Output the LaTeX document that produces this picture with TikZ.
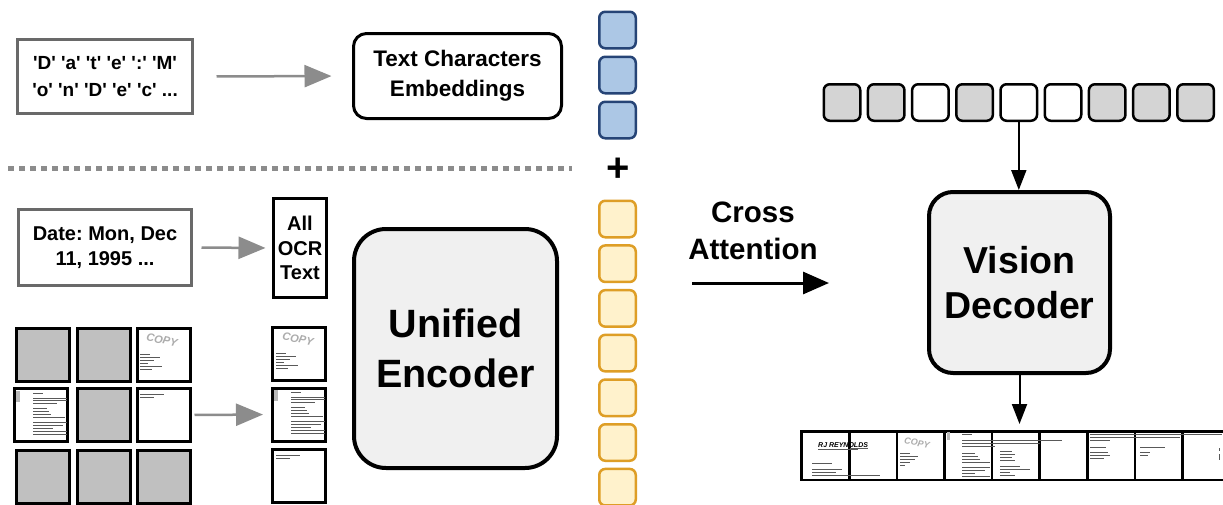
\documentclass[tikz,border=0pt]{standalone}
\usepackage{fontspec}
\setmainfont{Liberation Sans}
\usetikzlibrary{arrows.meta}
% straight single quote, set as a glyph so no ligature mapping touches it
\newcommand\sq{\XeTeXglyph\XeTeXcharglyph"27\relax}
\newcommand\qc[1]{\sq#1\sq}
\definecolor{blueFill}{RGB}{172,199,229}
\definecolor{blueLine}{RGB}{38,68,118}
\definecolor{amberFill}{RGB}{255,242,204}
\definecolor{amberLine}{RGB}{222,158,38}
\definecolor{tokGray}{RGB}{212,212,212}
\definecolor{tileGray}{RGB}{192,192,192}
\definecolor{boxFill}{RGB}{240,240,240}
\definecolor{frameGray}{RGB}{105,105,105}
\definecolor{arrowGray}{RGB}{140,140,140}
\frenchspacing
\begin{document}
\begin{tikzpicture}[x=1pt,y=-1pt,
  greybox/.style={draw=frameGray, line width=3pt, fill=white, inner sep=0pt, align=center},
  rbox/.style={draw=black, line width=3pt, fill=white, inner sep=0pt, align=center},
  bigbox/.style={draw=black, line width=4pt, fill=boxFill, inner sep=0pt, align=center},
  tokbase/.style={line width=2.5pt, minimum size=36.5pt, rounded corners=6pt, inner sep=0pt},
  bluetok/.style={tokbase, draw=blueLine, fill=blueFill},
  ambertok/.style={tokbase, draw=amberLine, fill=amberFill},
  graytok/.style={tokbase, draw=black},
  tile/.style={draw=black, line width=3pt, minimum size=53pt, fill=white, inner sep=0pt},
  striptile/.style={draw=black, line width=2.5pt, minimum width=47.6pt, minimum height=48.5pt, fill=white, inner sep=0pt},
  grayarrow/.style={draw=arrowGray, line width=2.5pt, -{Triangle[length=27pt,width=22pt]}},
  blackarrow/.style={draw=black, line width=2pt, -{Triangle[length=20pt,width=15pt]}},
  docink/.style={draw=black!65, line width=0.9pt},
  copydoc/.pic={
    \node[font=\bfseries\itshape\fontsize{11}{11}\selectfont, text=gray!65, rotate=-12, inner sep=0pt] (-word) at (27,13) {COPY};
    \draw[docink] (5,27)--(15,27) (5,30)--(25,30) (5,33.5)--(19,33.5) (5,36.5)--(13,36.5) (5,39.5)--(27,39.5) (5,42.5)--(17,42.5);
  },
  letterdoc/.pic={
    \fill[gray!55] (3,4) rectangle (7,15);
    \draw[docink] (20,6)--(30,6)
      (20,11)--(54,11) (20,13.5)--(54,13.5) (20,16)--(44,16)
      (20,21)--(34,21) (20,24)--(36,24) (20,27)--(38,27) (20,30)--(52,30)
      (20,35)--(54,35) (20,38)--(50,38) (20,41)--(40,41) (20,44)--(54,44) (20,47)--(54,47);
  },
  notedoc/.pic={
    \draw[docink] (5,7)--(29,7) (5,10)--(19,10);
  }
]
\useasboundingbox (0,0) rectangle (1223,504);
\fill[white] (0,0) rectangle (1223,504);

% character input and its embeddings
\node[greybox, minimum width=175pt, minimum height=74pt,
  font=\bfseries\fontsize{19}{27}\selectfont] (chars) at (105,76.5)
  {\qc{D} \qc{a} \qc{t} \qc{e} \qc{:} \qc{M}\\\qc{o} \qc{n} \qc{D} \qc{e} \qc{c} ...};
\node[rbox, minimum width=208pt, minimum height=85pt, rounded corners=13pt,
  font=\bfseries\fontsize{22.5}{30}\selectfont] (tce) at (457.5,76) {Text Characters\\Embeddings};
\draw[grayarrow, shorten <=22.5pt, shorten >=20.5pt] (chars.east) -- (tce.west);

% separator
\coordinate (sepL) at (8,168);
\coordinate (sepR) at (572,168);
\draw[draw=arrowGray, line width=5pt, dash pattern=on 6pt off 5pt] (sepL) -- (sepR);

% OCR text input
\node[greybox, minimum width=173pt, minimum height=76pt,
  font=\bfseries\fontsize{20}{25}\selectfont] (date) at (105,247.5) {Date: Mon, Dec\\11, 1995 ...};
\node[rbox, minimum width=53pt, minimum height=99pt,
  font=\bfseries\fontsize{20}{24.5}\selectfont] (ocr) at (300,248) {All\\OCR\\Text};
\draw[grayarrow, shorten <=8.5pt, shorten >=6.5pt] (date.east) -- (ocr.west);

% image patch grid
\node[tile, fill=tileGray] (g11) at (42.5,355) {};
\node[tile, fill=tileGray] (g12) at (104,355) {};
\node[tile] (g13) at (163.5,355) {};
\node[tile] (g21) at (40.5,415) {};
\node[tile, fill=tileGray] (g22) at (104,415) {};
\node[tile] (g23) at (163.5,415) {};
\node[tile, fill=tileGray] (g31) at (42.5,477) {};
\node[tile, fill=tileGray] (g32) at (104,477) {};
\node[tile, fill=tileGray] (g33) at (164,477) {};
\pic (pg13) at (135,327) {copydoc};
\pic (pg21) at (13,387) {letterdoc};
\pic (pg23) at (135,387) {notedoc};

% kept patches
\node[tile] (r1) at (299,354) {};
\node[tile] (r2) at (299,414.5) {};
\node[tile] (r3) at (299,476) {};
\pic (pr1) at (271,326) {copydoc};
\pic (pr2) at (271,386) {letterdoc};
\pic (pr3) at (271,448) {notedoc};
\draw[grayarrow, shorten <=3pt, shorten >=8pt] (g23.east) -- (r2.west);

% encoder
\node[bigbox, minimum width=203pt, minimum height=239pt, rounded corners=32pt,
  font=\bfseries\fontsize{39.5}{50}\selectfont] (enc) at (455.5,348.5) {Unified\\Encoder};

% embedding column
\foreach \i/\y in {1/30,2/75,3/120}
  \node[bluetok] (b\i) at (617.5,\y) {};
\node[font=\bfseries\fontsize{40}{40}\selectfont, inner sep=0pt] (plus) at (618,170) {+};
\foreach \i in {0,...,6}
  \node[ambertok] (o\i) at (617.5,{219+44.7*\i}) {};

% cross attention
\node[font=\bfseries\fontsize{29.5}{37}\selectfont, align=center, inner sep=0pt] (xattn) at (753,231) {Cross\\Attention};
\coordinate (xaS) at (692,283);
\coordinate (xaE) at (829,283);
\draw[draw=black, line width=3pt, -{Triangle[length=26pt,width=22pt]}] (xaS) -- (xaE);

% masked token row
\foreach \i/\f in {1/tokGray,2/tokGray,3/white,4/tokGray,5/white,6/white,7/tokGray,8/tokGray,9/tokGray}
  \node[graytok, fill=\f] (t\i) at ({842+44.2*(\i-1)},102.5) {};

% decoder
\node[bigbox, minimum width=181pt, minimum height=181pt, rounded corners=24pt,
  font=\bfseries\fontsize{37.5}{45}\selectfont] (vd) at (1019.5,282.5) {Vision\\Decoder};

% reconstructed page strip
\foreach \i in {1,...,9}
  \node[striptile] (s\i) at ({825.5+47.6*(\i-1)},455.5) {};
\node[font=\bfseries\itshape\fontsize{7}{7}\selectfont, anchor=west, inner sep=0pt] (rj) at (818,445.5) {RJ REYNOLDS};
\draw[docink] (818,449.5)--(858,449.5) (850,448)--(868,448)
  (812,463)--(832,463) (812,469)--(842,469) (812,472)--(836,472) (812,475)--(880,475);
\node[font=\bfseries\itshape\fontsize{9}{9}\selectfont, text=gray!65, rotate=-10, inner sep=0pt] (cpy) at (917,443) {COPY};
\draw[docink] (900,453)--(910,453) (900,456)--(918,456) (900,459)--(915,459) (900,462)--(910,462) (900,465)--(905,465);
\fill[gray!55] (947,432) rectangle (950,440);
\draw[docink] (962,434)--(972,434) (962,440)--(1062,440) (962,443)--(1040,443) (962,446)--(995,446)
  (962,453)--(975,453) (962,456)--(978,456) (962,459)--(980,459) (962,462)--(990,462)
  (962,467)--(990,467) (962,470)--(985,470) (962,473)--(975,473) (962,476)--(990,476)
  (1000,451)--(1012,451) (1000,454)--(1015,454) (1000,457)--(1012,457) (1000,460)--(1015,460)
  (1000,466)--(1020,466) (1000,469)--(1030,469) (1000,472)--(1010,472) (1000,475)--(1015,475);
\draw[docink] (1090,434)--(1222,434) (1090,437)--(1180,437) (1090,440)--(1110,440)
  (1090,447)--(1106,447) (1090,452)--(1108,452) (1090,455)--(1110,455) (1090,458)--(1104,458)
  (1140,447)--(1165,447) (1140,452)--(1150,452) (1140,455)--(1148,455)
  (1219,448)--(1219,451) (1219,454)--(1219,460);

% decoder connectors
\draw[blackarrow] (t5.south) -- (t5.south |- vd.north);
\draw[blackarrow, shorten >=6pt] (vd.south) -- (vd.south |- s5.north);
\end{tikzpicture}
\end{document}
